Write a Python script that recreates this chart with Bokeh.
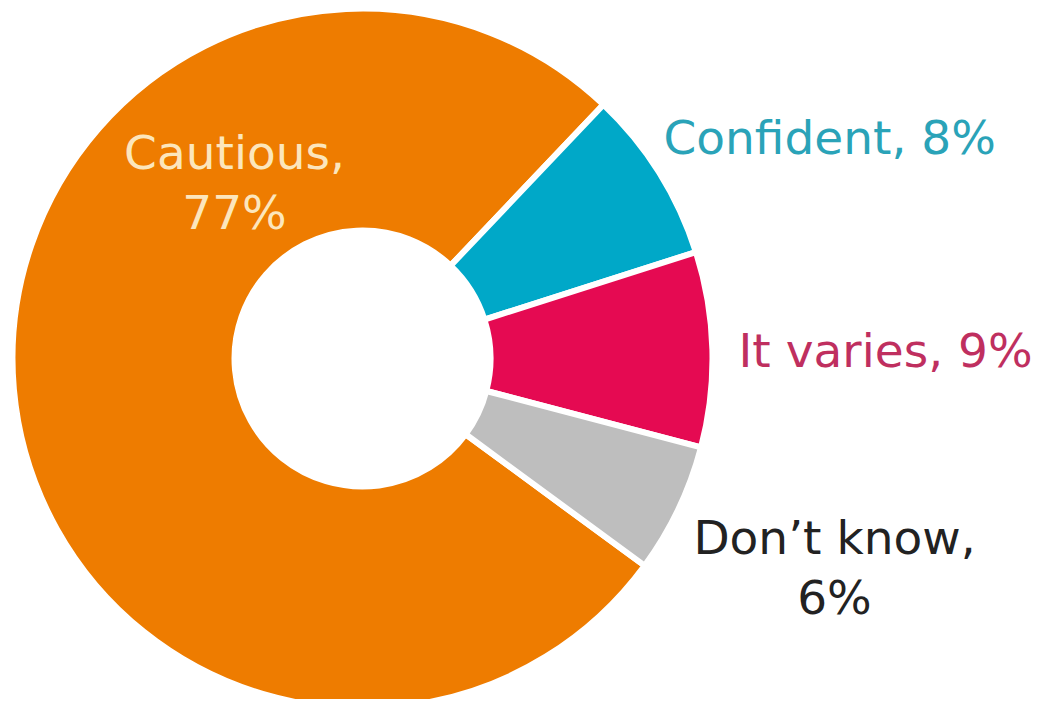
import math
from bokeh.plotting import figure
from bokeh.models import ColumnDataSource, Range1d
from bokeh.core.properties import value
from bokeh.embed import file_html
from bokeh.resources import INLINE

# ---- data ----
categories = ["Cautious", "Confident", "It varies", "Don't know"]
shares = [77, 8, 9, 6]
slice_colors = ["#EE7C00", "#00A8C8", "#E50A52", "#BEBEBE"]
label_lines = [["Cautious,", "77%"], ["Confident, 8%"], ["It varies, 9%"], ["Don\u2019t know,", "6%"]]
label_colors = ["#FCE6BC", "#2AA3B8", "#BF2F5F", "#222222"]

# ---- layout ----
W, H = 1036, 699
CX, CY = 362, 341
R_OUT, R_IN = 350, 128
START_DEG = -36.3          # first slice starts here, slices go clockwise
FONT = "DejaVu Sans"
FONT_SIZE = "47px"
LINE_GAP = 60
label_anchor = [(234, 547, "center"), (663, 562, "left"), (738, 349, "left"), (834, 162, "center")]

total = float(sum(shares))
starts, ends = [], []
cum = 0.0
for s in shares:
    a0 = math.radians(START_DEG - 360.0 * cum / total)
    cum += s
    a1 = math.radians(START_DEG - 360.0 * cum / total)
    starts.append(a0)
    ends.append(a1)

src = ColumnDataSource(dict(
    cat=categories, share=shares, color=slice_colors,
    x=[CX] * len(shares), y=[CY] * len(shares),
    start=starts, end=ends,
))

p = figure(width=W, height=H, output_backend="svg", toolbar_location=None,
           x_range=Range1d(0, W), y_range=Range1d(0, H), min_border=0)
p.axis.visible = False
p.grid.visible = False
p.outline_line_color = None
p.background_fill_color = "white"
p.border_fill_color = "white"

p.annular_wedge(x="x", y="y", inner_radius=R_IN, outer_radius=R_OUT,
                start_angle="start", end_angle="end", direction="clock",
                fill_color="color", line_color="white", line_width=6, source=src)

tx, ty, tt, tc, ta = [], [], [], [], []
for lines, col, (ax, ay, al) in zip(label_lines, label_colors, label_anchor):
    for i, ln in enumerate(lines):
        tx.append(ax)
        ty.append(ay - i * LINE_GAP)
        tt.append(ln)
        tc.append(col)
        ta.append(al)

for align in ("left", "center"):
    idx = [i for i in range(len(tt)) if ta[i] == align]
    lsrc = ColumnDataSource(dict(x=[tx[i] for i in idx], y=[ty[i] for i in idx],
                                 t=[tt[i] for i in idx], c=[tc[i] for i in idx]))
    p.text(x="x", y="y", text="t", text_color="c", source=lsrc,
           text_font=value(FONT), text_font_size=FONT_SIZE,
           text_align=align, text_baseline="alphabetic")

open("out.html", "w").write(file_html(p, INLINE))
